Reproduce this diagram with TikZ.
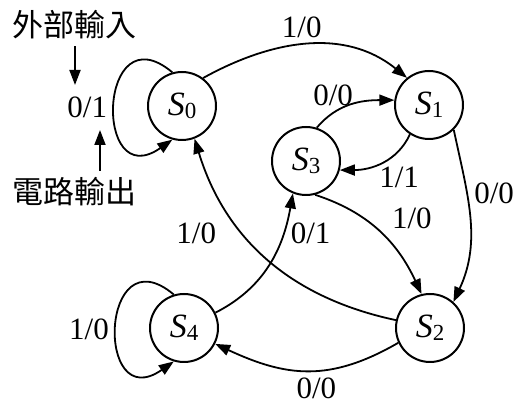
\documentclass[tikz,border=0pt]{standalone}
\usepackage{fontspec}
\setmainfont{Liberation Serif}
\newfontfamily\cjkfont{Noto Sans CJK TC}
\usetikzlibrary{arrows.meta}
\newcommand{\stname}[1]{\textit{S}\raisebox{-1.5pt}{\fontsize{11.5}{13}\selectfont #1}}

\begin{document}
\begin{tikzpicture}[x=0.5pt,y=0.5pt,
state/.style={circle,draw,line width=1pt,minimum size=34pt,inner sep=0pt,font=\fontsize{17}{19}\selectfont},
trans/.style={-{Triangle[length=7.5pt,width=5.5pt]},line width=0.9pt},
lbl/.style={font=\fontsize{15.5}{17}\selectfont},
note/.style={font=\cjkfont\fontsize{15.5}{18}\selectfont}]
\useasboundingbox (0,0) rectangle (514,406);
\node[state] (S0) at (182,300) {\stname{0}};
\node[state] (S1) at (429,301) {\stname{1}};
\node[state] (S3) at (306,245) {\stname{3}};
\node[state] (S4) at (184,78) {\stname{4}};
\node[state] (S2) at (430,78) {\stname{2}};
\draw[trans] (S0.106) to[out=140,in=215,looseness=3.7] node[lbl,pos=0.52,left] (l01) {0/1} (S0.254);
\draw[trans] (S4.107) to[out=140,in=215,looseness=3.7] node[lbl,pos=0.52,left] (l10d) {1/0} (S4.253);
\draw[trans] (S0.53) to[out=29,in=141] node[lbl,pos=0.47,above] (l10a) {1/0} (S1.129);
\draw[trans] (S3.72) to[out=50,in=180] node[lbl,pos=0.25,above] (l00a) {0/0} (S1.172);
\draw[trans] (S1.237) to[out=245,in=0] node[lbl,pos=0.42,below,xshift=6] (l11) {1/1} (S3.-15);
\draw[trans] (S1.-45) to[out=-78,in=65] node[lbl,pos=0.35,right] (l00b) {0/0} (S2.48);
\draw[trans] (S3.-75) to[out=-18,in=115] node[lbl,pos=0.55,above right] (l10b) {1/0} (S2.104);
\draw[trans] (S2.167) to[out=168,in=-73] node[lbl,pos=0.63,left,xshift=-10] (l10c) {1/0} (S0.-69);
\draw[trans] (S4.26) to[out=27,in=-100] node[lbl,pos=0.74,right] (l01b) {0/1} (S3.-112);
\draw[trans] (S2.205) to[out=210,in=-25,looseness=1.1] node[lbl,pos=0.45,below] (l00c) {0/0} (S4.-27);
% input / output notes
\node[note] (lin) at (74,381) {外部輸入};
\node[note] (lout) at (74,214) {電路輸出};
\coordinate (inEnd) at (75,321);
\coordinate (outEnd) at (100,276);
\draw[trans] (lin.south -| inEnd) -- (inEnd);
\draw[trans] (lout.north -| outEnd) -- (outEnd);
\end{tikzpicture}
\end{document}
